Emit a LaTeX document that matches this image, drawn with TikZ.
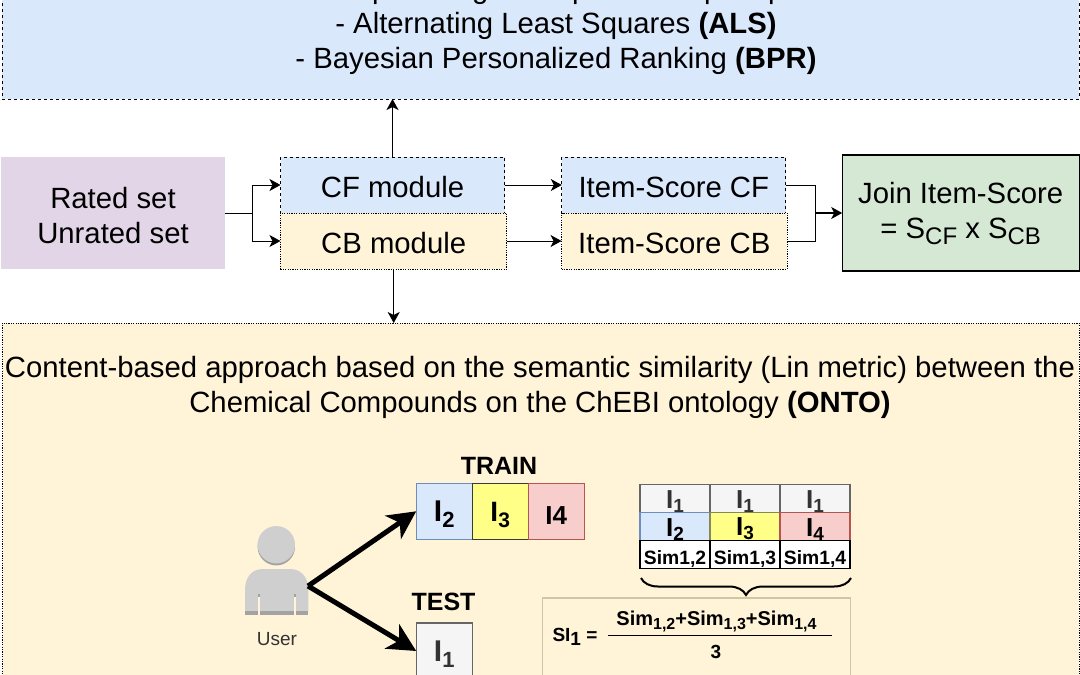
\documentclass[tikz,border=0pt]{standalone}
\usepackage{fontspec}
\setmainfont{Liberation Sans}
\usetikzlibrary{arrows.meta,decorations.pathreplacing}
\definecolor{blueFill}{HTML}{DAE8FC}
\definecolor{blueLine}{HTML}{6C8EBF}
\definecolor{yellowFill}{HTML}{FFF3D8}
\definecolor{purpleFill}{HTML}{E1D5E7}
\definecolor{greenFill}{HTML}{D5E8D4}
\definecolor{greyFill}{HTML}{F5F5F5}
\definecolor{greyLine}{HTML}{666666}
\definecolor{greyText}{HTML}{333333}
\definecolor{redFill}{HTML}{F8CECC}
\definecolor{redLine}{HTML}{B85450}
\definecolor{lemonFill}{HTML}{FFFF88}
\definecolor{lemonLine}{HTML}{36393D}
\definecolor{tanLine}{HTML}{CFC6A3}
\definecolor{userLight}{HTML}{CFCFCF}
\definecolor{userDark}{HTML}{A3A3A3}
\newcommand{\lowsub}[3]{\raisebox{-#1pt}{\fontsize{#2}{#2}\selectfont #3}}
\tikzset{
  box/.style={inner sep=0pt,outer sep=0pt,align=center,text=black,
    font=\fontsize{29.3}{35}\selectfont},
  nudge/.style={execute at begin node=\rule{0pt}{#1pt}},
  dashbox/.style={box,nudge=24.5,draw=black,line width=1pt,dash pattern=on 3pt off 3pt},
  dotbox/.style={box,nudge=24.5,draw=black,line width=1pt,dash pattern=on 1.2pt off 1.2pt},
  item/.style={box,nudge=27,line width=1.2pt,minimum width=56pt,minimum height=56pt,
    font=\fontsize{30}{32}\selectfont\bfseries},
  cell/.style={box,nudge=23,line width=1.2pt,minimum width=70pt,minimum height=28pt,
    font=\fontsize{26}{28}\selectfont\bfseries},
  simcell/.style={cell,nudge=18,draw=black,fill=white,font=\fontsize{19.3}{22}\selectfont\bfseries},
  title/.style={inner sep=0pt,font=\fontsize{25}{28}\selectfont\bfseries},
  frag/.style={inner sep=0pt,anchor=base west,font=\fontsize{29.3}{35}\selectfont},
  flow/.style={line width=1pt,-{Stealth[length=11pt,width=12pt,inset=3pt]}},
  thick arrow/.style={line width=5pt,-{Stealth[length=28pt,width=28pt,inset=8pt]}}
}
\begin{document}
\begin{tikzpicture}[x=1pt,y=-1pt]
  \useasboundingbox (0,0) rectangle (1080,675);
  \fill[white] (0,0) rectangle (1080,675);
  % upper panel
  \node[dashbox,fill=blueFill,minimum width=1077pt,minimum height=159pt] (cfPanel) at (540.5,19.5) {};
  \node[box] (cfText) at (556,43.5) {- Alternating Least Squares \textbf{(ALS)}\\- Bayesian Personalized Ranking \textbf{(BPR)}};
  \node[frag] (cut1) at (372,-2) {p};
  \node[frag] (cut2) at (472,-2) {g};
  \node[frag] (cut3) at (572,-2) {p};
  \node[frag] (cut4) at (704,-2) {p};
  \node[frag] (cut5) at (768,-2) {p};
  % flow
  \node[box,fill=purpleFill,minimum width=224pt,minimum height=112pt] (sets) at (113,213) {};
  \node[box] (setsText) at (113,216) {Rated set\\Unrated set};
  \node[dashbox,fill=blueFill,minimum width=224pt,minimum height=56pt] (cfMod) at (392.5,185) {CF module};
  \node[dotbox,fill=yellowFill,minimum width=226.5pt,minimum height=56pt] (cbMod) at (393.7,241) {CB module};
  \node[dashbox,fill=blueFill,minimum width=224pt,minimum height=56pt] (cfScore) at (673.8,185) {Item-Score CF};
  \node[dotbox,fill=yellowFill,minimum width=225.5pt,minimum height=56pt] (cbScore) at (674.3,241) {Item-Score CB};
  \node[box,draw=black,line width=1.2pt,fill=greenFill,minimum width=237pt,minimum height=116pt] (join) at (960.7,213)
    {Join Item-Score\\= S\lowsub{6}{24}{CF} x S\lowsub{6}{24}{CB}};
  % lower panel
  \node[dotbox,fill=yellowFill,minimum width=1077pt,minimum height=400pt] (cbPanel) at (540.5,523) {};
  \node[box] (cbText) at (540,387) {Content-based approach based on the semantic similarity (Lin metric) between the\\Chemical Compounds on the ChEBI ontology \textbf{(ONTO)}};
  \coordinate (split) at (252,213);
  \coordinate (merge) at (815,213);
  \begin{scope}[flow]
    \draw[-] (sets) to (split);
    \draw (split) |- (cfMod.west);
    \draw (split) |- (cbMod.west);
    \draw (cfMod.east) to (cfScore.west);
    \draw (cbMod.east) to (cbScore.west);
    \draw[-] (cfScore.east) -| (merge);
    \draw[-] (cbScore.east) -| (merge);
    \draw[line width=1.5pt] (merge) to (join.west);
    \draw (cfMod.north) to (cfPanel.south -| cfMod.north);
    \draw (cbMod.south) to (cbPanel.north -| cbMod.south);
  \end{scope}
  % user
  \fill[userDark] (276.3,546.7) circle (18.7pt);
  \fill[userLight] (276.3,544.7) circle (18.7pt);
  \fill[userLight] (245,611) -- (245,590) .. controls (245,577) and (252,569) .. (263,569) -- (290,569)
    .. controls (301,569) and (308.3,577) .. (308.3,590) -- (308.3,611) -- cycle;
  \fill[userDark] (245,611) rectangle (308.3,615);
  \fill[yellowFill] (258.4,597) rectangle (259.8,615);
  \fill[yellowFill] (294.4,597) rectangle (295.8,615);
  \fill[userDark] (258.4,594) rectangle (259.8,597);
  \fill[userDark] (294.4,594) rectangle (295.8,597);
  \node[inner sep=0pt,font=\fontsize{19}{22}\selectfont,text=greyText] (user) at (277,639) {User};
  \coordinate (userEdge) at (308,586);
  % train and test
  \node[item,draw=blueLine,fill=blueFill] (i2) at (444.2,511.3) {I\lowsub{6}{22}{2}};
  \node[item,draw=lemonLine,fill=lemonFill] (i3) at (500.2,511.3) {\fontsize{28}{30}\selectfont I\lowsub{6}{21}{3}};
  \node[item,nudge=19,draw=redLine,fill=redFill] (i4) at (556.2,511.3) {\fontsize{26}{28}\selectfont I4};
  \node[item,draw=greyLine,fill=greyFill,text=greyText] (i1) at (444.2,651) {I\lowsub{6}{22}{1}};
  \node[title] (train) at (499,466) {TRAIN};
  \node[title] (test) at (443.5,602) {TEST};
  \draw[thick arrow] (userEdge) to (i2.west);
  \draw[thick arrow] (userEdge) to (i1.west);
  % table
  \node[cell,draw=greyLine,fill=greyFill,text=greyText] (a1) at (675,498.5) {I\lowsub{4}{19}{1}};
  \node[cell,draw=greyLine,fill=greyFill,text=greyText] (a2) at (745,498.5) {I\lowsub{4}{19}{1}};
  \node[cell,draw=greyLine,fill=greyFill,text=greyText] (a3) at (815,498.5) {I\lowsub{4}{19}{1}};
  \node[cell,draw=blueLine,fill=blueFill] (b1) at (675,526.5) {I\lowsub{4}{19}{2}};
  \node[cell,draw=lemonLine!60!lemonFill,fill=lemonFill] (b2) at (745,526.5) {I\lowsub{4}{19}{3}};
  \node[cell,draw=redLine,fill=redFill] (b3) at (815,526.5) {I\lowsub{4}{19}{4}};
  \node[simcell] (c1) at (675,554.5) {Sim1,2};
  \node[simcell] (c2) at (745,554.5) {Sim1,3};
  \node[simcell] (c3) at (815,554.5) {Sim1,4};
  \coordinate (braceL) at (641,578);
  \coordinate (braceR) at (851,578);
  \draw[line width=2pt,decorate,decoration={brace,amplitude=17pt,mirror}] (braceL) to (braceR);
  % formula
  \node[box,draw=tanLine,line width=1.2pt,fill=yellowFill,minimum width=308pt,minimum height=100pt] (formula) at (696.3,648) {};
  \node[inner sep=0pt,anchor=west,font=\fontsize{19}{22}\selectfont\bfseries] (si) at (552.3,637) {SI\lowsub{4}{19}{1} =};
  \node[inner sep=0pt,font=\fontsize{20}{22}\selectfont\bfseries] (num) at (716.5,621.5) {Sim\lowsub{4}{16}{1,2}+Sim\lowsub{4}{16}{1,3}+Sim\lowsub{4}{16}{1,4}};
  \node[inner sep=0pt,font=\fontsize{19}{22}\selectfont\bfseries] (den) at (716,651.5) {3};
  \coordinate (ruleL) at (608.3,635.7);
  \coordinate (ruleR) at (831.7,635.7);
  \draw[line width=1pt] (ruleL) to (ruleR);
\end{tikzpicture}
\end{document}
